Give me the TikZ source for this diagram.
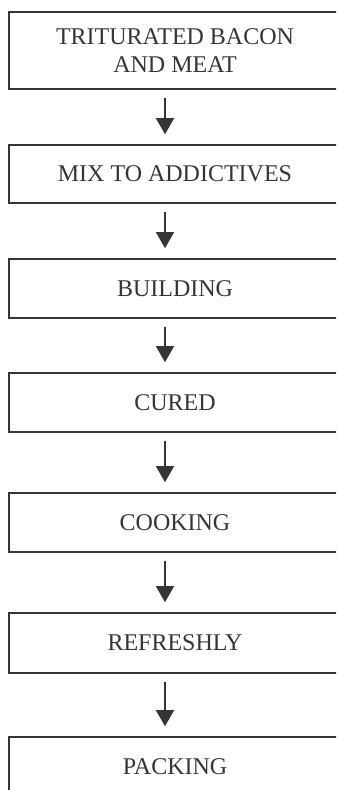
\documentclass[tikz,border=0pt]{standalone}
\usepackage{fontspec}
\setmainfont{Liberation Serif}
\usetikzlibrary{arrows.meta}
\definecolor{ink}{HTML}{353535}
\tikzset{
  stepbox/.style={draw=ink, line width=1.6bp, minimum width=332bp, inner sep=0pt,
    font=\fontsize{24bp}{28bp}\selectfont, text=ink, align=center},
  flow/.style={draw=ink, line width=1.3bp, -{Triangle[width=18bp,length=16bp]},
    shorten <=8bp, shorten >=10bp},
}
\begin{document}
\begin{tikzpicture}[x=1bp,y=-1bp]
\useasboundingbox (0,0) rectangle (336,790);
\clip (0,0) rectangle (336,790);
\node[stepbox, minimum height=77bp] (b1) at (175,50.5) {TRITURATED BACON\\AND MEAT};
\node[stepbox, minimum height=58bp] (b2) at (175,174) {MIX TO ADDICTIVES};
\node[stepbox, minimum height=59bp] (b3) at (175,288.5) {BUILDING};
\node[stepbox, minimum height=59bp] (b4) at (175,402.5) {CURED};
\node[stepbox, minimum height=59bp] (b5) at (175,522.5) {COOKING};
\node[stepbox, minimum height=60bp] (b6) at (175,643) {REFRESHLY};
\node[stepbox, minimum height=60bp] (b7) at (175,767) {PACKING};
\foreach \a/\b in {b1/b2,b2/b3,b3/b4,b4/b5,b5/b6,b6/b7}
  \draw[flow] ([xshift=-10bp]\a.south) -- ([xshift=-10bp]\b.north);
\end{tikzpicture}
\end{document}
